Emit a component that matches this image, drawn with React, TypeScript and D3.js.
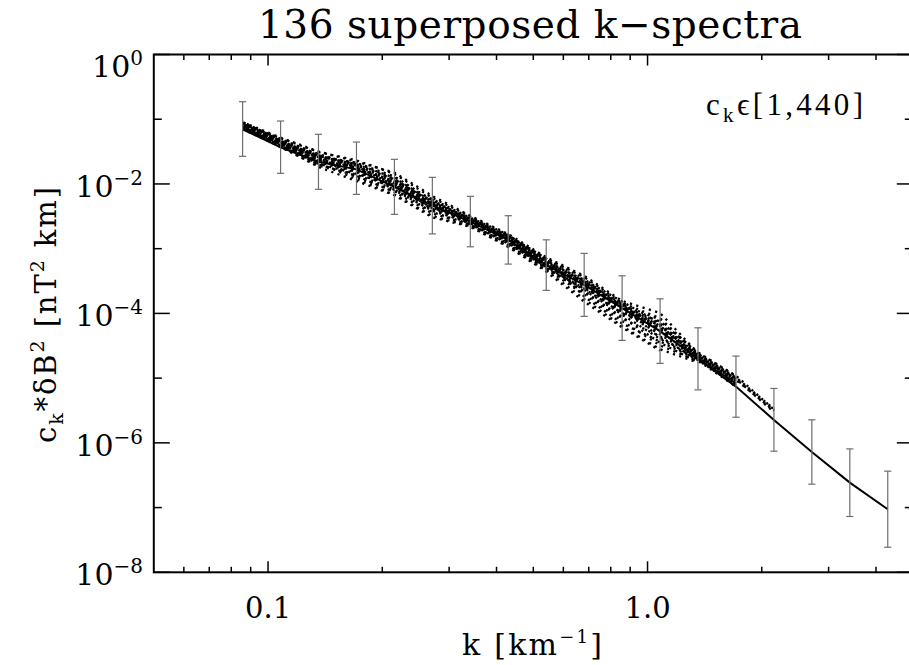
import React from "react";
import * as d3 from "d3";

const W = 909;
const H = 665;

// k bins of the mean spectrum / error bars [km^-1]
const kBins = [0.0857, 0.1079, 0.1358, 0.171, 0.2153, 0.271, 0.3412, 0.4295, 0.5408, 0.6808, 0.857, 1.079, 1.358, 1.71, 2.153, 2.71, 3.412, 4.295];
// mean c_k * dB^2 [nT^2 km]
const meanSpectrum = [0.0698, 0.0369, 0.022, 0.0168, 9.02e-3, 4.62e-3, 2.62e-3, 1.37e-3, 5.58e-4, 2.76e-4, 1.21e-4, 5.32e-5, 1.99e-5, 7.4e-6, 2.26e-6, 7.23e-7, 2.43e-7, 9.44e-8];
const upperBound = [0.1864, 0.0938, 0.0585, 0.0444, 0.024, 0.01265, 6.43e-3, 3.23e-3, 1.37e-3, 8.46e-4, 3.81e-4, 1.68e-4, 5.99e-5, 2.19e-5, 6.93e-6, 2.27e-6, 8.07e-7, 3.65e-7];
const lowerBound = [0.02673, 0.01459, 8.26e-3, 6.9e-3, 3.39e-3, 1.69e-3, 1.07e-3, 5.78e-4, 2.27e-4, 9.0e-5, 3.83e-5, 1.69e-5, 6.59e-6, 2.49e-6, 7.44e-7, 2.3e-7, 7.28e-8, 2.44e-8];

// individual superposed spectra, offsets from the mean in decades, at kBins
const spectraOffsetsDex = [
  [0.10, 0.12, 0.10, 0.08, 0.10, 0.06, 0.05, 0.04, 0.06, 0.05, 0.04, 0.08, 0.05, 0.10, 0.15],
  [0.06, 0.08, 0.05, 0.02, 0.04, 0.02, 0.01, 0.00, 0.02, 0.00, -0.02, 0.02, 0.03, 0.06],
  [0.02, 0.04, 0.00, -0.05, -0.02, -0.06, -0.03, -0.04, -0.02, -0.08, -0.10, -0.12, -0.02, 0.02],
  [0.08, 0.14, 0.15, 0.14, 0.20, 0.12, 0.08, 0.06, 0.10, 0.12, 0.08, 0.20, 0.08, 0.14, 0.17],
  [0.04, 0.02, -0.04, -0.10, -0.08, -0.12, -0.05, -0.08, -0.06, -0.15, -0.20, -0.22, -0.04],
  [0.12, 0.10, 0.06, 0.04, 0.08, 0.10, 0.06, 0.08, 0.04, 0.08, 0.10, 0.12, 0.06, 0.12],
  [0.01, 0.06, 0.08, 0.10, 0.16, 0.08, 0.03, 0.02, 0.00, 0.02, 0.05, 0.00, 0.00, 0.04],
  [0.05, 0.03, -0.02, -0.15, -0.12, -0.16, -0.07, -0.10, -0.08, -0.22, -0.28, -0.28, -0.06],
  [0.09, 0.11, 0.12, 0.06, 0.12, 0.04, 0.02, 0.06, 0.08, 0.10, 0.00, 0.15, 0.10, 0.16],
  [0.03, 0.07, 0.02, -0.02, 0.00, -0.03, -0.01, -0.02, 0.00, -0.04, -0.06, -0.05, 0.00, 0.03],
  [0.07, 0.09, 0.10, 0.06, 0.05, 0.00, 0.04, 0.02, -0.04, -0.10, -0.14, -0.18, -0.05],
  [0.11, 0.15, 0.16, 0.12, 0.22, 0.15, 0.09, 0.09, 0.12, 0.14, 0.11, 0.28, 0.09, 0.17, 0.16],
  [0.00, 0.01, -0.08, -0.18, -0.13, -0.18, -0.08, -0.11, -0.10, -0.26, -0.30, -0.30],
  [0.05, 0.05, 0.04, 0.00, 0.06, 0.02, 0.00, -0.02, 0.04, 0.03, 0.02, 0.06, 0.01, 0.08],
  [0.08, 0.10, 0.08, 0.08, 0.14, 0.06, 0.04, 0.05, 0.07, 0.06, 0.06, 0.10, 0.04, 0.12, 0.12],
  [0.02, 0.00, -0.06, -0.08, -0.04, -0.10, -0.04, -0.06, -0.04, -0.12, -0.16, -0.08, -0.03, 0.00],
  [0.10, 0.13, 0.11, 0.02, -0.05, -0.08, -0.02, 0.03, 0.05, -0.02, -0.08, 0.04, 0.02, 0.09],
  [0.04, 0.09, 0.09, 0.10, 0.12, 0.02, -0.04, -0.06, -0.03, 0.06, 0.02, -0.10, -0.01, 0.05],
  [0.06, 0.04, 0.01, 0.05, 0.02, -0.04, 0.07, 0.00, -0.05, -0.06, 0.04, 0.18, 0.06, 0.10],
  [0.03, 0.06, 0.07, -0.12, -0.07, 0.04, 0.00, 0.07, 0.10, -0.18, -0.24, -0.16, -0.02],
  [0.07, 0.05, 0.03, -0.04, 0.03, -0.01, 0.02, 0.01, 0.03, -0.01, -0.04, -0.02, 0.02, 0.07],
  [0.09, 0.07, 0.02, 0.01, 0.09, 0.03, -0.02, 0.04, 0.01, 0.02, 0.01, 0.08, 0.04, 0.09],
  [0.01, 0.03, -0.03, -0.07, 0.01, -0.05, 0.03, -0.03, -0.01, -0.06, -0.08, 0.10, 0.00, 0.05],
  [0.11, 0.09, 0.09, 0.07, 0.06, 0.08, 0.03, 0.03, 0.05, 0.04, 0.07, 0.03, 0.07, 0.13, 0.14],
];

const xDomain = [0.05, 5];
const yDomain = [1e-8, 1];
const xMajorTicks = [0.1, 1];
const xMajorLabels = ["0.1", "1.0"];
const xMinorTicks = [0.06, 0.07, 0.08, 0.09, 0.2, 0.3, 0.4, 0.5, 0.6, 0.7, 0.8, 0.9, 2, 3, 4];
const yMajorExponents = [0, -2, -4, -6, -8];
const yMinorExponents = [-1, -3, -5, -7];

const titleText = "136 superposed k\u2212spectra";

export default function App() {
  const left = 153.8, right = 912.8, top = 54.5, bottom = 572.3;
  const x = d3.scaleLog().domain(xDomain).range([left, right]);
  const y = d3.scaleLog().domain(yDomain).range([bottom, top]);

  const meanPts: [number, number][] = kBins.map((k, i) => [x(k), y(meanSpectrum[i])]);
  const line = d3.line();

  const spectraPaths = spectraOffsetsDex.map((offs) =>
    line(offs.map((d, i) => [x(kBins[i]), y(meanSpectrum[i] * Math.pow(10, d))] as [number, number]))
  );

  const serif = "'DejaVu Serif', serif";
  const cap = 3.6;

  return (
    <svg width={W} height={H} style={{ position: "absolute", left: 0, top: 0, background: "#fff" }}>
      <rect x={0} y={0} width={W} height={H} fill="#fff" />
      {/* title */}
      <text x={530} y={38} textAnchor="middle" fontFamily={serif} fontSize={39} textLength={544} lengthAdjust="spacing" fill="#000">
        {titleText}
      </text>

      {/* spectra (dotted) */}
      <g fill="none" stroke="#000" strokeWidth={2.3} strokeDasharray="2.2 4.4">
        {spectraPaths.map((p, i) => (
          <path key={i} d={p || ""} strokeDashoffset={(i * 1.7) % 6.6} />
        ))}
      </g>

      {/* mean spectrum */}
      <path d={line(meanPts) || ""} fill="none" stroke="#000" strokeWidth={2} />

      {/* error bars */}
      <g stroke="#6e6e6e" strokeWidth={1.2}>
        {kBins.map((k, i) => {
          const xx = x(k);
          const y1 = y(upperBound[i]);
          const y2 = y(lowerBound[i]);
          return (
            <g key={i}>
              <line x1={xx} x2={xx} y1={y1} y2={y2} />
              <line x1={xx - cap} x2={xx + cap} y1={y1} y2={y1} />
              <line x1={xx - cap} x2={xx + cap} y1={y2} y2={y2} />
            </g>
          );
        })}
      </g>

      {/* frame */}
      <rect x={left} y={top} width={right - left} height={bottom - top} fill="none" stroke="#000" strokeWidth={2} />

      {/* ticks */}
      <g stroke="#000" strokeWidth={1.5}>
        {xMajorTicks.map((t) => (
          <g key={"xM" + t}>
            <line x1={x(t)} x2={x(t)} y1={bottom} y2={bottom - 11} />
            <line x1={x(t)} x2={x(t)} y1={top} y2={top + 11} />
          </g>
        ))}
        {xMinorTicks.map((t) => (
          <g key={"xm" + t}>
            <line x1={x(t)} x2={x(t)} y1={bottom} y2={bottom - 5.5} />
            <line x1={x(t)} x2={x(t)} y1={top} y2={top + 5.5} />
          </g>
        ))}
        {yMajorExponents.map((e) => (
          <g key={"yM" + e}>
            <line x1={left} x2={left + 16} y1={y(Math.pow(10, e))} y2={y(Math.pow(10, e))} />
            <line x1={right} x2={right - 16} y1={y(Math.pow(10, e))} y2={y(Math.pow(10, e))} />
          </g>
        ))}
        {yMinorExponents.map((e) => (
          <g key={"ym" + e}>
            <line x1={left} x2={left + 8} y1={y(Math.pow(10, e))} y2={y(Math.pow(10, e))} />
            <line x1={right} x2={right - 8} y1={y(Math.pow(10, e))} y2={y(Math.pow(10, e))} />
          </g>
        ))}
      </g>

      {/* x tick labels */}
      {xMajorTicks.map((t, i) => (
        <text key={"xl" + t} x={x(t)} y={618} textAnchor="middle" fontFamily={serif} fontSize={29} fill="#000">
          {xMajorLabels[i]}
        </text>
      ))}

      {/* y tick labels */}
      {yMajorExponents.map((e) => {
        const ty = y(Math.pow(10, e));
        const base = Math.max(ty + 12.7, top + 22);
        return (
          <text key={"yl" + e} x={143} y={base} textAnchor="end" fontFamily={serif} fontSize={30} fill="#000">
            <tspan>10</tspan>
            <tspan dy={-12} fontSize={20}>{e === 0 ? "0" : "\u2212" + Math.abs(e)}</tspan>
          </text>
        );
      })}

      {/* x axis label */}
      <text x={532} y={655} textAnchor="middle" fontFamily={serif} fontSize={30} textLength={140} lengthAdjust="spacing" fill="#000">
        <tspan>k [km</tspan>
        <tspan dy={-12} fontSize={18}>{"\u22121"}</tspan>
        <tspan dy={12}>]</tspan>
      </text>

      {/* y axis label */}
      <text transform="translate(56,315) rotate(-90)" textAnchor="middle" fontFamily={serif} fontSize={29} textLength={256} lengthAdjust="spacing" fill="#000">
        <tspan>c</tspan>
        <tspan dy={7} fontSize={19}>k</tspan>
        <tspan dy={-7}>*δB</tspan>
        <tspan dy={-12} fontSize={19}>2</tspan>
        <tspan dy={12}> [nT</tspan>
        <tspan dy={-12} fontSize={19}>2</tspan>
        <tspan dy={12}> km]</tspan>
      </text>

      {/* legend */}
      <text x={706} y={115} fontFamily="'Liberation Serif', serif" fontSize={31} textLength={157} lengthAdjust="spacing" fill="#000">
        <tspan>c</tspan>
        <tspan dy={7} fontSize={21}>k</tspan>
        <tspan dy={-7}>{"\u03f5[1,440]"}</tspan>
      </text>
    </svg>
  );
}
